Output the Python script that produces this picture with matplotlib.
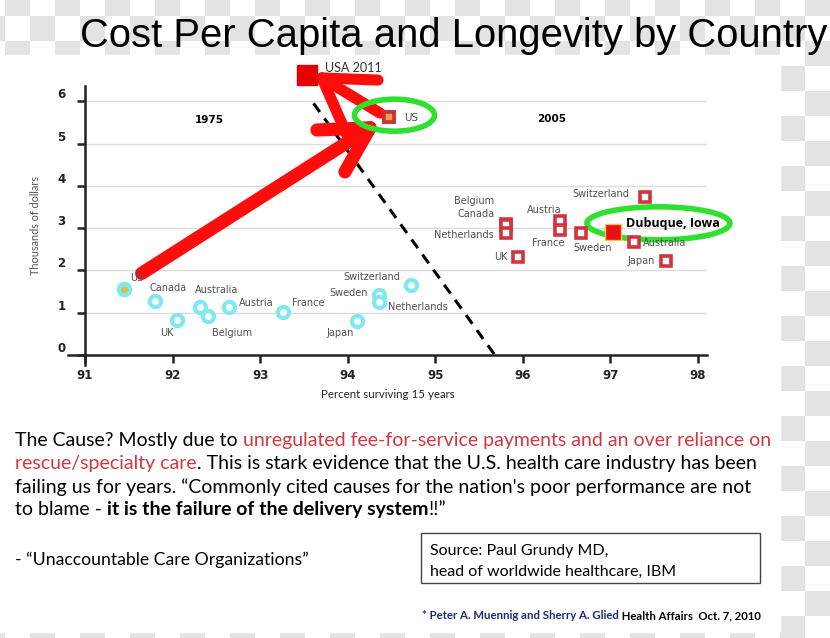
import numpy as np
import matplotlib.pyplot as plt
import matplotlib.transforms as mtransforms
from matplotlib.patches import Ellipse, Rectangle
from matplotlib.colors import ListedColormap

# 1975 survey (cyan rings)
countries_1975 = ["US", "Canada", "UK", "Australia", "Belgium", "Austria",
                  "France", "Japan", "Sweden", "Netherlands", "Switzerland"]
surv_1975 = [91.44, 91.80, 92.05, 92.31, 92.41, 92.65, 93.26, 94.11, 94.36, 94.36, 94.72]
cost_1975 = [1.56, 1.28, 0.83, 1.14, 0.92, 1.14, 1.01, 0.81, 1.42, 1.25, 1.65]

# 2005 survey (red squares)
countries_2005 = ["US", "Belgium", "Canada", "Netherlands", "UK", "Austria",
                  "France", "Sweden", "Australia", "Switzerland", "Japan"]
surv_2005 = [94.47, 95.81, 95.81, 95.81, 95.94, 96.42, 96.42, 96.66, 97.27, 97.40, 97.64]
cost_2005 = [5.62, 3.09, 3.07, 2.88, 2.32, 3.17, 2.96, 2.88, 2.68, 3.73, 2.22]

dubuque = (97.03, 2.92)
usa_2011 = (93.54, 6.62)

x_ticks = [91, 92, 93, 94, 95, 96, 97, 98]
y_ticks = [0, 1, 2, 3, 4, 5, 6]

# dashed divider and the two hand drawn arrows (tail, tip, barb, barb)
divider_x = [93.61, 95.68]
divider_y = [5.95, 0.0]
arrow1 = [(91.647, 1.93), (94.255, 5.37), (93.649, 5.32), (93.969, 4.33)]
arrow2 = [(94.369, 5.72), (93.706, 6.55), (94.346, 6.50), (93.992, 5.20)]

# label offsets in points (dx, dy, ha)
off_1975 = [(5, 8, "left"), (-4, 9.4, "left"), (-2.7, -9.4, "right"), (-3.6, 12, "left"),
            (2.7, -12.2, "left"), (7, 2.7, "left"), (6.3, 6.7, "left"), (-2.7, -8.9, "right"),
            (-7.9, 1.4, "right"), (6.5, -3.2, "left"), (-7.7, 5.8, "right")]
off_2005 = [(11.3, -0.7, "left"), (-8.4, 17, "right"), (-8.4, 8, "right"), (-9.1, -1.2, "right"),
            (-7.4, -0.2, "right"), (-11.2, 7.9, "center"), (3.6, -9.4, "right"),
            (8.6, -10.6, "center"), (6.5, -1, "left"), (-11.3, 2.4, "right"), (-8.4, 0, "right")]

W, H = 830, 638
fig = plt.figure(figsize=(8.3, 6.38), dpi=100)

# checkerboard backdrop with the white slide on top
bg = fig.add_axes([0, 0, 1, 1], zorder=-10)
bg.set_xlim(0, W)
bg.set_ylim(H, 0)
bg.axis("off")
xe = np.arange(-20, W + 25, 25)
ye = np.arange(-9, H + 25, 25)
ii, jj = np.meshgrid(np.arange(len(xe) - 1), np.arange(len(ye) - 1))
bg.pcolormesh(xe, ye, (ii + jj) % 2, cmap=ListedColormap(["white", "#e3e3e3"]), shading="flat")
bg.add_patch(Rectangle((0, 55), 780, 577, color="white"))

ax = fig.add_axes([68 / W, 1 - 365 / H, (707 - 68) / W, (365 - 86) / H])
ax.patch.set_alpha(0)
ax.set_xlim(90.806, 98.103)
ax.set_ylim(-0.236, 6.36)

ax.hlines(y_ticks[1:], 91, 98.103, color="#dcdcdc", lw=1, zorder=0)
for s in ["top", "right"]:
    ax.spines[s].set_visible(False)
ax.spines["left"].set_position(("data", 91))
ax.spines["bottom"].set_position(("data", 0))
for s in ["left", "bottom"]:
    ax.spines[s].set_linewidth(1.8)
    ax.spines[s].set_color("#222222")
ax.set_xticks(x_ticks)
ax.set_yticks(y_ticks)
ax.tick_params(length=6, width=1.8, color="#222222", labelsize=8.5, labelcolor="#222222")
ax.tick_params(axis="x", pad=4)
ax.tick_params(axis="y", pad=8)
for lab in ax.get_xticklabels() + ax.get_yticklabels():
    lab.set_fontweight("bold")
for lab in ax.get_yticklabels():
    lab.set_va("bottom")

ax.set_xlabel("Percent surviving 15 years", family="Lato", fontsize=8.3, color="#222222", labelpad=5)
ax.set_ylabel("Thousands of dollars", family="Lato", fontsize=7.8, color="#555555", labelpad=12)

ax.plot(divider_x, divider_y, color="black", lw=2.2, ls=(0, (3.5, 2.6)), zorder=1)

for arr, lw in [(arrow1, 9.5), (arrow2, 8)]:
    tail, tip, b1, b2 = arr
    for start in (tail, b1, b2):
        ax.plot([start[0], tip[0]], [start[1], tip[1]], color="#ff0d0d", lw=lw,
                solid_capstyle="round", zorder=2, clip_on=False)

ax.add_patch(Ellipse((94.534, 5.67), 0.914, 0.757, fill=False, ec="#2fe02f", lw=4,
                     zorder=3, clip_on=False))
ax.add_patch(Ellipse((97.548, 3.114), 1.633, 0.78, fill=False, ec="#2fe02f", lw=4,
                     zorder=3, clip_on=False))

ax.plot(surv_1975, cost_1975, "o", ms=8, mfc="white", mec="#80e8f0", mew=3, zorder=4)
ax.plot(surv_1975[:1], cost_1975[:1], "o", ms=8, mfc="#d8c23a", mec="#80e8f0", mew=3, zorder=5)
ax.plot(surv_2005, cost_2005, "s", ms=7, mfc="white", mec="#d3333f", mew=2.6, zorder=4)
ax.plot(surv_2005[:1], cost_2005[:1], "s", ms=7, mfc="#f4a040", mec="#c8323a", mew=2.6, zorder=5)
ax.plot(*dubuque, "s", ms=12, mfc="#e81010", mec="#f2c24a", mew=1, zorder=5)
ax.plot(*usa_2011, "s", ms=14, color="#e50000", zorder=5, clip_on=False)

for name, x, y, (dx, dy, ha) in zip(countries_1975, surv_1975, cost_1975, off_1975):
    ax.annotate(name, (x, y), xytext=(dx, dy), textcoords="offset points", ha=ha, va="center",
                fontsize=7, color="#505050", zorder=6)
for name, x, y, (dx, dy, ha) in zip(countries_2005, surv_2005, cost_2005, off_2005):
    ax.annotate(name, (x, y), xytext=(dx, dy), textcoords="offset points", ha=ha, va="center",
                fontsize=7.5 if name == "US" else 7, color="#505050", zorder=6)
ax.annotate("Dubuque, Iowa", dubuque, xytext=(9.1, 5.5), textcoords="offset points",
            ha="left", va="center", fontsize=9, fontweight="bold", family="Open Sans",
            color="black", zorder=6, annotation_clip=False)
ax.annotate("USA 2011", usa_2011, xytext=(13, 5.4), textcoords="offset points",
            ha="left", va="center", fontsize=9, family="Lato", color="#333333",
            zorder=6, annotation_clip=False)
ax.text(92.42, 5.56, "1975", ha="center", va="center", fontsize=7.5, fontweight="bold")
ax.text(96.33, 5.58, "2005", ha="center", va="center", fontsize=7.5, fontweight="bold")

# slide text, placed in pixels from the top-left corner
flip = mtransforms.Affine2D().scale(1, -1).translate(0, H)
fig.text(80, 47, "Cost Per Capita and Longevity by Country", transform=flip,
         family="Liberation Sans", fontsize=28.8, va="baseline")

red = "#d3373f"
body = [
    [("The Cause? Mostly due to ", "black", "normal"),
     ("unregulated fee-for-service payments and an over reliance on", red, "normal")],
    [("rescue/specialty care", red, "normal"),
     (". This is stark evidence that the U.S. health care industry has been", "black", "normal")],
    [("failing us for years. \u201cCommonly cited causes for the nation's poor performance are not",
      "black", "normal")],
    [("to blame - ", "black", "normal"), ("it is the failure of the delivery system", "black", "bold"),
     ("!!\u201d", "black", "normal")],
]
baselines = [446, 469, 493, 515]

renderer = fig.canvas.get_renderer()


def runs(x, y, parts, **kw):
    for s, color, weight in parts:
        t = fig.text(x, y, s, transform=flip, color=color, fontweight=weight, va="baseline", **kw)
        x += t.get_window_extent(renderer).width


for parts, yb in zip(body, baselines):
    runs(15, yb, parts, family="Lato", fontsize=14)

fig.text(15, 565, "- \u201cUnaccountable Care Organizations\u201d", transform=flip,
         family="Lato", fontsize=12.7, va="baseline")

fig.add_artist(Rectangle((421, 533), 339, 50, transform=flip, fill=False, ec="#444444", lw=1))
fig.text(430, 555, "Source: Paul Grundy MD,", transform=flip, family="Lato", fontsize=11.5,
         va="baseline")
fig.text(430, 576, "head of worldwide healthcare, IBM", transform=flip, family="Lato",
         fontsize=11.5, va="baseline")

runs(422, 619, [("* Peter A. Muennig and Sherry A. Glied", "#1a2a80", "bold"),
                (" Health Affairs  Oct. 7, 2010", "black", "bold")],
     family="Lato", fontsize=8.2)

fig.savefig("out.png", dpi=100)
